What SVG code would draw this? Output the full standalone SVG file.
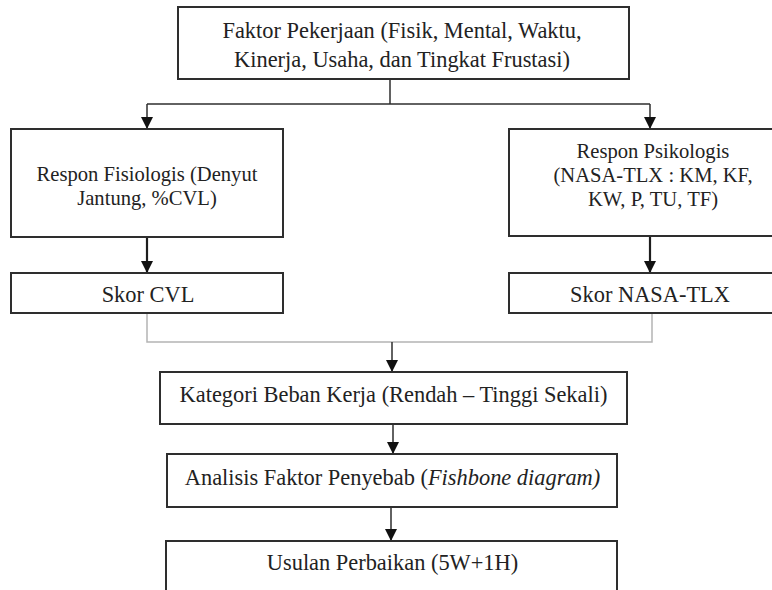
<svg xmlns="http://www.w3.org/2000/svg" width="772" height="590" viewBox="0 0 772 590">
<style>
.box{fill:#fff;stroke:#2e2e2e;stroke-width:2}
.t{font-family:"Liberation Serif","DejaVu Serif","Noto Serif",serif;font-size:22.4px;fill:#222;text-anchor:middle}
.s{font-size:20.6px}
.ln{fill:none;stroke:#2e2e2e;stroke-width:1.5}
.lnb{fill:none;stroke:#1e1e1e;stroke-width:2.2}
.lg{fill:none;stroke:#b4b4b4;stroke-width:1.5}
</style>
<defs>
<marker id="ah" markerUnits="userSpaceOnUse" markerWidth="12" markerHeight="14" viewBox="0 0 12 14" refX="12" refY="6" orient="auto">
<path d="M0,0 L12,6 L0,12 z" fill="#111"/>
</marker>
</defs>
<rect width="772" height="590" fill="#fff"/>
<g id="connectors">
<path class="ln" d="M390,79 V104"/>
<path class="ln" d="M147,104 H650"/>
<path class="ln" d="M147,104 V129" marker-end="url(#ah)"/>
<path class="ln" d="M650,104 V129" marker-end="url(#ah)"/>
<path class="lnb" d="M147,237 V273" marker-end="url(#ah)"/>
<path class="lnb" d="M650,236 V273" marker-end="url(#ah)"/>
<path class="lg" d="M147,313 V342 H652 V313"/>
<path class="ln" d="M392,342 V372" marker-end="url(#ah)"/>
<path class="ln" d="M393,424 V454" marker-end="url(#ah)"/>
<path class="ln" d="M391,507 V541" marker-end="url(#ah)"/>
</g>
<g id="n-faktor">
<rect class="box" x="178" y="7" width="451" height="72"/>
<text class="t" x="402" y="38">Faktor Pekerjaan (Fisik, Mental, Waktu,<tspan x="402" dy="29">Kinerja, Usaha, dan Tingkat Frustasi)</tspan></text>
</g>
<g id="n-fisiologis">
<rect class="box" x="11" y="129" width="272" height="108"/>
<text class="t s" x="147" y="181">Respon Fisiologis (Denyut<tspan x="147" dy="24">Jantung, %CVL)</tspan></text>
</g>
<g id="n-psikologis">
<rect class="box" x="509" y="129" width="290" height="107"/>
<text class="t s" x="653" y="158">Respon Psikologis<tspan x="653" dy="24">(NASA-TLX : KM, KF,</tspan><tspan x="653" dy="24">KW, P, TU, TF)</tspan></text>
</g>
<g id="n-skorcvl">
<rect class="box" x="11" y="273" width="272" height="40"/>
<text class="t" x="148" y="302">Skor CVL</text>
</g>
<g id="n-skornasa">
<rect class="box" x="509" y="273" width="290" height="40"/>
<text class="t" x="650" y="302">Skor NASA-TLX</text>
</g>
<g id="n-kategori">
<rect class="box" x="160" y="372" width="467" height="52"/>
<text class="t" x="393.5" y="402">Kategori Beban Kerja (Rendah – Tinggi Sekali)</text>
</g>
<g id="n-analisis">
<rect class="box" x="167" y="454" width="450" height="53"/>
<text class="t" x="392.5" y="485">Analisis Faktor Penyebab (<tspan font-style="italic">Fishbone diagram)</tspan></text>
</g>
<g id="n-usulan">
<rect class="box" x="166" y="541" width="451" height="60"/>
<text class="t" x="392.5" y="570">Usulan Perbaikan (5W+1H)</text>
</g>
</svg>
